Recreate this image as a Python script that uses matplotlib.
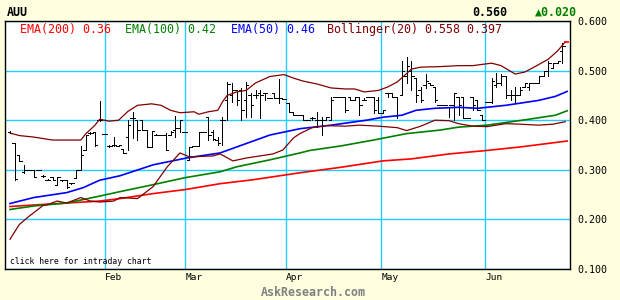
import matplotlib
matplotlib.use("Agg")
import matplotlib.pyplot as plt
import numpy as np

plt.rcParams["font.family"] = ["DejaVu Sans Mono", "DejaVu Sans"]

# daily OHLC, one entry per trading day
opens = [.376, .354, .33, .296, .30, .30, .30, .288, .28, .286, .27, .28, .28, .274, .284, .30, .34, .374, .376, .40,
         .372, .348, .35, .348, .342, .366, .404, .40, .40, .38, .346, .37, .37, .37, .37, .38, .384, .376, .32, .348,
         .348, .376, .406, .376, .36, .40, .44, .45, .46, .46, .44, .45, .45, .454, .454, .444, .454, .444, .442, .434,
         .416, .41, .41, .40, .404, .40, .40, .40, .40, .446, .446, .447, .447, .44, .446, .44, .446, .446, .44, .414,
         .454, .454, .446, .45, .49, .50, .486, .46, .47, .476, .466, .43, .43, .426, .43, .446, .446, .404, .446, .44,
         .41, .436, .436, .47, .476, .49, .45, .45, .45, .466, .466, .476, .476, .49, .50, .506, .516, .54]
highs = [.378, .354, .33, .31, .30, .30, .30, .29, .282, .286, .286, .28, .28, .274, .30, .348, .37, .376, .376, .438,
         .372, .35, .366, .35, .342, .40, .416, .40, .40, .38, .378, .372, .37, .374, .378, .408, .40, .376, .346, .348,
         .376, .376, .406, .38, .366, .406, .478, .474, .46, .464, .478, .454, .46, .46, .454, .444, .454, .484, .442, .434,
         .416, .41, .41, .40, .406, .416, .406, .406, .446, .446, .446, .447, .447, .446, .446, .444, .446, .447, .446, .42,
         .454, .454, .446, .52, .527, .52, .486, .466, .494, .476, .466, .43, .43, .426, .454, .446, .446, .404, .446, .44,
         .41, .436, .486, .496, .494, .49, .46, .466, .466, .476, .476, .476, .49, .50, .52, .516, .52, .556]
lows = [.374, .28, .318, .294, .30, .286, .30, .286, .28, .28, .27, .278, .264, .272, .284, .30, .34, .372, .348, .398,
        .372, .346, .348, .348, .334, .34, .364, .36, .38, .346, .346, .37, .37, .34, .37, .366, .376, .376, .32, .348,
        .348, .376, .36, .36, .35, .35, .40, .436, .43, .40, .406, .406, .444, .404, .44, .444, .444, .434, .442, .416,
        .41, .41, .40, .40, .40, .386, .37, .40, .40, .446, .446, .417, .44, .44, .41, .44, .446, .414, .414, .414,
        .446, .446, .404, .45, .476, .46, .437, .437, .464, .47, .436, .43, .43, .406, .40, .41, .404, .404, .42, .42,
        .40, .436, .434, .466, .47, .444, .44, .436, .45, .466, .46, .476, .476, .49, .49, .506, .516, .516]
closes = [.374, .282, .318, .30, .30, .286, .30, .288, .28, .28, .286, .28, .266, .274, .30, .33, .37, .374, .35, .40,
          .372, .348, .35, .35, .334, .39, .404, .38, .38, .346, .378, .37, .37, .34, .376, .384, .40, .376, .346, .348,
          .376, .376, .37, .362, .354, .40, .472, .46, .44, .42, .47, .43, .45, .45, .454, .444, .444, .444, .442, .416,
          .41, .41, .40, .40, .404, .40, .40, .406, .44, .446, .446, .42, .44, .446, .43, .44, .446, .42, .414, .42,
          .454, .446, .41, .50, .51, .49, .45, .44, .48, .47, .44, .43, .43, .43, .454, .43, .404, .404, .43, .42,
          .40, .436, .48, .476, .49, .45, .45, .45, .46, .476, .476, .476, .49, .50, .516, .516, .52, .55]

# indicator lines: (day index, value)
ema200_day = [0, 5, 12, 19, 23.3, 30.3, 37, 44.5, 51.5, 61.4, 70, 79, 85, 93, 101, 108, 118]
ema200_val = [.226, .229, .233, .237, .242, .252, .26, .272, .28, .294, .305, .318, .322, .332, .339, .346, .358]
ema100_day = [0, 5, 12, 19, 23.3, 30.3, 37, 44.5, 48, 55, 61.4, 63.5, 70, 77, 84, 91, 95, 101, 108.5, 115.5, 118]
ema100_val = [.22, .227, .233, .247, .256, .27, .284, .296, .306, .32, .334, .339, .348, .36, .373, .38, .386, .39, .40, .41, .419]
ema50_day = [0, 5, 12, 15.5, 19, 23.3, 30.3, 37.5, 44.5, 48, 55, 60, 61.5, 68, 75.5, 79, 83, 86, 90, 95, 99,
             101, 105, 108.5, 112, 115.5, 118]
ema50_val = [.232, .244, .254, .264, .279, .288, .31, .324, .334, .346, .37, .38, .383, .39, .40,
             .406, .41, .42, .424, .426, .424, .426, .43, .435, .44, .448, .458]
bb_up_day = [0, 2, 5, 9, 12, 15, 16, 18, 19, 21, 23, 25, 27, 30, 32, 34, 36, 39, 40, 42, 44, 45, 46, 48, 50, 52, 55,
             58, 60, 62, 65, 68, 71, 73, 75, 78, 80, 82, 84, 85, 87, 91, 95, 98, 102, 104, 107, 109, 111, 114, 116, 117.6]
bb_up_val = [.374, .369, .366, .36, .36, .36, .372, .39, .402, .398, .40, .418, .43, .433, .43, .42, .415, .417, .412,
             .417, .42, .437, .45, .457, .46, .475, .488, .492, .485, .479, .473, .465, .463, .463, .457, .46, .467,
             .477, .494, .503, .507, .508, .51, .51, .515, .51, .493, .497, .507, .523, .54, .558]
bb_lo_day = [0, 2, 4, 7, 8, 10, 12, 15, 17, 19, 22, 23.3, 27, 30.3, 33.3, 36, 38, 43, 44.5, 47.2, 50.2, 55.7, 57.8, 60,
             61.4, 64, 67, 71, 74, 78, 82, 84, 87, 90, 93, 95, 98, 101, 105, 108, 112, 115, 117.6]
bb_lo_val = [.16, .19, .206, .228, .23, .237, .233, .244, .237, .235, .237, .244, .242, .266, .306, .334, .326, .328,
             .332, .318, .324, .332, .34, .364, .373, .385, .389, .388, .39, .388, .385, .379, .388,
             .40, .399, .393, .388, .387, .393, .392, .39, .392, .397]

months = ["Feb", "Mar", "Apr", "May", "Jun"]
month_start = [20.1, 37.1, 58.5, 78.6, 100.6]
yticks = [0.1, 0.2, 0.3, 0.4, 0.5, 0.6]

BG = "#FFFFE0"
GRID = "#22CCFF"
BBCOL = "#800000"

fig = plt.figure(figsize=(6.2, 3.0), dpi=100, facecolor=BG)
ax = fig.add_axes([5 / 620, 31 / 300, 565 / 620, 248 / 300])
ax.set_facecolor("white")

days = np.arange(len(closes))
half = 0.5
bar_lw = 0.72  # one pixel
ax.vlines(days, lows, highs, color="black", lw=bar_lw, antialiased=False)
ax.hlines(opens, days - half, days, color="black", lw=bar_lw, antialiased=False)
ax.hlines(closes, days, days + half, color="black", lw=bar_lw, antialiased=False)

ax.plot(ema200_day, ema200_val, color="#FF0000", lw=1.2)
ax.plot(ema100_day, ema100_val, color="#008000", lw=1.2)
ax.plot(ema50_day, ema50_val, color="#0000FF", lw=1.2)
ax.plot(bb_up_day, bb_up_val, color=BBCOL, lw=0.9)
ax.plot(bb_lo_day, bb_lo_val, color=BBCOL, lw=0.9)
# last price marker
ax.hlines(bb_up_val[-1], days[-1] + 0.3, days[-1] + 1.3, color="#FF0000", lw=1.2)

ax.set_xlim(-1.06, 118.6)
ax.set_ylim(0.1, 0.6)

ax.set_xticks(month_start)
ax.set_xticklabels(months, ha="left", fontsize=6.8)
ax.yaxis.tick_right()
ax.set_yticks(yticks)
ax.set_yticklabels([f"{v:.3f}" for v in yticks], fontsize=7.2)
ax.tick_params(axis="both", length=0)
ax.tick_params(axis="x", pad=3)
ax.tick_params(axis="y", pad=5)
ax.grid(True, color=GRID, lw=1.0)
ax.set_axisbelow(True)
for s in ax.spines.values():
    s.set_color("black")
    s.set_linewidth(1.0)

def px(x, y):
    return x / 620, 1 - y / 300

fig.text(*px(7, 12), "AUU", fontsize=8.4, fontweight="bold", va="center")
fig.text(*px(507, 12), "0.560", fontsize=8.4, fontweight="bold", va="center", ha="right")
fig.text(*px(577, 12), "▲0.020", fontsize=8.4, fontweight="bold", va="center", ha="right", color="#008000")

legend = [(20, "EMA(200) 0.36", "#FF0000"), (125, "EMA(100) 0.42", "#008000"),
          (231, "EMA(50) 0.46", "#0000FF"), (327, "Bollinger(20) 0.558 0.397", BBCOL)]
for x, s, c in legend:
    fig.text(*px(x, 30), s, fontsize=8.4, color=c, va="center")

fig.text(*px(10, 262), "click here for intraday chart", fontsize=5.9, va="center")
fig.text(*px(313, 292), "AskResearch.com", fontsize=8.4, fontweight="bold", color="#808080",
         ha="center", va="center")

fig.savefig("out.png", dpi=100, facecolor=BG)
